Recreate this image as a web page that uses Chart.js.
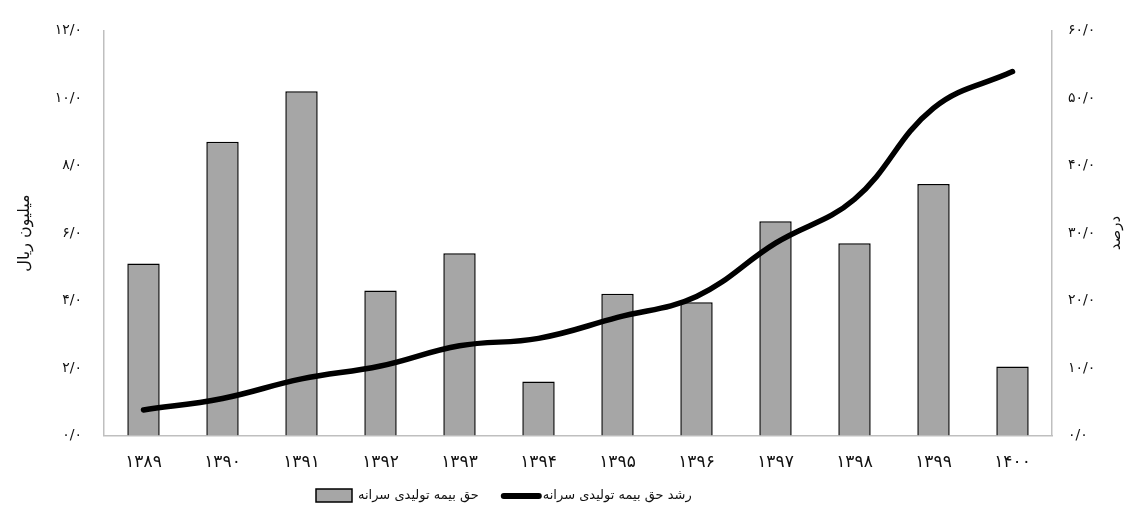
<!DOCTYPE html>
<html lang="fa">
<head>
<meta charset="utf-8">
<script src="https://cdn.jsdelivr.net/npm/chart.js@4.4.1/dist/chart.umd.min.js"></script>
<style>
  html, body { margin: 0; padding: 0; background: #fff; }
  canvas { display: block; }
</style>
</head>
<body>
<canvas id="chart" width="1132" height="508"></canvas>
<script>
// سال‌ها
const years = ['۱۳۸۹', '۱۳۹۰', '۱۳۹۱', '۱۳۹۲', '۱۳۹۳', '۱۳۹۴', '۱۳۹۵', '۱۳۹۶', '۱۳۹۷', '۱۳۹۸', '۱۳۹۹', '۱۴۰۰']

// حق بیمه تولیدی سرانه (میلیون ریال)
const premiumPerCapita = [5.1, 8.7, 10.2, 4.3, 5.4, 1.6, 4.2, 3.95, 6.35, 5.7, 7.45, 2.05]

// رشد حق بیمه تولیدی سرانه (درصد)
const premiumGrowth = [3.8, 5.5, 8.4, 10.3, 13.3, 14.4, 17.5, 20.6, 28.5, 35.0, 48.5, 53.9]

const seriesNames = ['رشد حق بیمه تولیدی سرانه', 'حق بیمه تولیدی سرانه']

const faFont = '"DejaVu Sans", sans-serif'
const barGray = '#a6a6a6'

// ۱۲.۰ -> ۱۲/۰
const faDigits = ['۰', '۱', '۲', '۳', '۴', '۵', '۶', '۷', '۸', '۹']
const toFa = (v) => Number(v).toFixed(1).replace('.', '/').replace(/[0-9]/g, (d) => faDigits[d])

// عنوان محور راست (چرخش خلاف عقربه‌ها، مثل محور چپ)
const rightTitle = {
  id: 'rightTitle',
  afterDraw(chart) {
    const c = chart.ctx
    const area = chart.chartArea
    c.save()
    c.translate(1116, (area.top + area.bottom) / 2)
    c.rotate(-Math.PI / 2)
    c.font = '15px ' + faFont
    c.fillStyle = '#111'
    c.textAlign = 'center'
    c.textBaseline = 'middle'
    c.direction = 'rtl'
    c.fillText('درصد', 0, 0)
    c.restore()
  },
}

// راهنما: مستطیل ستون + متن، خط + متن
const legendRow = {
  id: 'legendRow',
  afterDraw(chart) {
    const c = chart.ctx
    const y = 496
    c.save()
    c.font = '13px ' + faFont
    c.fillStyle = '#111'
    c.textAlign = 'left'
    c.textBaseline = 'middle'
    c.direction = 'rtl'

    let x = 316
    c.fillStyle = barGray
    c.fillRect(x, y - 7, 36, 13)
    c.strokeStyle = '#000'
    c.lineWidth = 1.5
    c.strokeRect(x, y - 7, 36, 13)
    x += 42
    c.fillStyle = '#111'
    c.fillText(seriesNames[1], x, y)
    x += c.measureText(seriesNames[1]).width + 22

    c.beginPath()
    c.moveTo(x + 3, y)
    c.lineTo(x + 38, y)
    c.lineWidth = 6
    c.lineCap = 'round'
    c.strokeStyle = '#000'
    c.stroke()
    x += 42
    c.fillText(seriesNames[0], x, y)
    c.restore()
  },
}

const ctx = document.getElementById('chart').getContext('2d')

new Chart(ctx, {
  data: {
    labels: years,
    datasets: [
      {
        type: 'line',
        label: seriesNames[0],
        data: premiumGrowth,
        yAxisID: 'y1',
        borderColor: '#000',
        backgroundColor: '#000',
        borderWidth: 5.5,
        borderCapStyle: 'round',
        tension: 0.4,
        pointRadius: 0,
      },
      {
        type: 'bar',
        label: seriesNames[1],
        data: premiumPerCapita,
        yAxisID: 'y',
        backgroundColor: barGray,
        borderColor: '#000',
        borderWidth: 1.5,
        barPercentage: 0.41,
        categoryPercentage: 1,
      },
    ],
  },
  options: {
    responsive: false,
    animation: false,
    layout: { padding: { top: 16, left: 0, right: 0, bottom: 18 } },
    plugins: {
      tooltip: { enabled: false },
      legend: { display: false },
    },
    scales: {
      x: {
        offset: true,
        grid: { display: false, drawTicks: false },
        border: { color: '#bfbfbf', width: 1.5 },
        ticks: {
          padding: 17,
          color: '#111',
          font: { family: faFont, size: 17 },
        },
      },
      y: {
        position: 'left',
        min: 0,
        max: 12,
        grid: { display: false, drawTicks: false },
        border: { color: '#bfbfbf', width: 1.5 },
        ticks: {
          stepSize: 2,
          padding: 22,
          color: '#111',
          font: { family: faFont, size: 14 },
          callback: (v) => toFa(v),
        },
        title: {
          display: true,
          text: 'میلیون ریال',
          color: '#111',
          font: { family: faFont, size: 16 },
          padding: { top: 15, bottom: 0 },
        },
        afterFit: (scale) => { scale.width = 104 },
      },
      y1: {
        position: 'right',
        min: 0,
        max: 60,
        grid: { display: false, drawTicks: false },
        border: { color: '#bfbfbf', width: 1.5 },
        ticks: {
          stepSize: 10,
          padding: 16,
          color: '#111',
          font: { family: faFont, size: 14 },
          callback: (v) => toFa(v),
        },
        afterFit: (scale) => { scale.width = 80 },
      },
    },
  },
  plugins: [rightTitle, legendRow],
})
</script>
</body>
</html>
